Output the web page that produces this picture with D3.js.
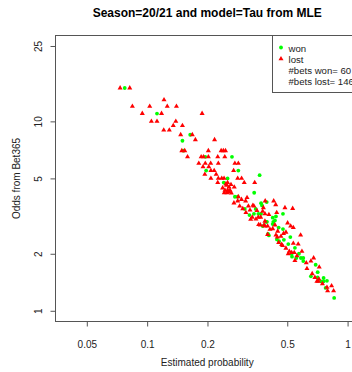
<!DOCTYPE html>
<html>
<head>
<meta charset="utf-8">
<script src="https://cdn.jsdelivr.net/npm/d3@7"></script>
<style>
  html, body { margin: 0; padding: 0; background: #fff; }
  svg { display: block; font-family: "Liberation Sans", Arial, sans-serif; }
</style>
</head>
<body>
<script>
// estimated probability / bookmaker odds
const wonProb = [0.0773,0.112,0.150,0.164,0.152,0.195,0.265,0.197,0.285,0.252,0.241,0.364,0.342,0.274,0.283,0.307,0.348,0.370,0.395,0.476,
  0.341,0.359,0.370,0.396,0.423,0.434,0.423,0.377,0.401,0.476,0.453,0.518,0.444,0.455,0.481,0.506,0.546,0.572,0.585,0.555,
  0.392,0.426,0.405,0.601,0.601,0.693,0.709,0.656,0.709,0.759,0.736,0.759,0.789,0.777,0.857,0.526,0.324,0.439,0.528,0.374];
const wonOdds = [15,11,7.9,8.5,7,6.5,6.5,5.5,5.5,5,4.75,5.2,4.2,4,4,3.45,3.45,3.7,3.75,3.25,
  3.25,3.25,3.25,2.95,3.1,3,2.87,2.8,2.55,2.7,2.75,2.45,2.38,2.33,2.37,2.25,2.15,2,1.9,1.9,
  2.95,2.95,2.5,1.9,1.83,1.75,1.6,1.52,1.5,1.49,1.43,1.43,1.44,1.32,1.17,2,3.2,3.15,1.93,3.6];

const lostProb = [0.0733,0.0819,0.1214,0.0844,0.103,0.126,0.140,0.0946,0.118,0.105,
  0.112,0.139,0.135,0.121,0.129,0.188,0.150,0.147,0.168,0.174,
  0.217,0.149,0.154,0.202,0.234,0.240,0.246,0.159,0.186,0.191,
  0.202,0.225,0.244,0.181,0.195,0.2075,0.2265,0.274,0.285,0.190,
  0.203,0.208,0.216,0.270,0.194,0.221,0.208,0.2265,0.2355,0.242,
  0.283,0.296,0.305,0.225,0.252,0.344,0.272,0.249,0.256,0.2445,
  0.252,0.259,0.2425,0.250,0.256,0.285,0.310,0.283,0.2895,0.320,
  0.341,0.300,0.337,0.326,0.428,0.438,0.487,0.532,0.443,0.353,
  0.377,0.387,0.387,0.3585,0.3685,0.3345,0.367,0.383,0.502,0.4925,
  0.446,0.465,0.453,0.469,0.536,0.512,0.526,0.542,0.559,0.387,
  0.399,0.434,0.423,0.520,0.536,0.399,0.439,0.448,0.583,0.567,
  0.474,0.506,0.546,0.622,0.656,0.677,0.722,0.666,0.687,0.719,
  0.703,0.714,0.832,0.789,0.795,0.8515,0.388,0.380,0.405,0.3285,
  0.360,0.247,0.262,0.238,0.263,0.315,0.2955,0.271,0.311,0.349,
  0.410,0.479,0.4925,0.592,0.627,0.749];
const lostOdds = [15,15,13,12,12,12,12,11,11,10,
  10,10,9.5,9,9,11,9.5,8.5,8.5,8,
  8,7,7,7,7,7,7,6.5,6.5,6.5,
  6.5,6.5,6.5,6,6,6,6,6,6,5.75,
  5.75,5.5,5.5,5.5,5.25,5.25,5,5,5,5,
  5,5,4.75,4.75,4.75,4.75,4.5,4.6,4.5,4.33,
  4.33,4.33,4.2,4.2,4.25,4,3.8,3.8,3.57,3.57,
  3.57,3.46,3.6,3.4,3.8,3.63,3.5,3.47,3.3,3.38,
  3.35,3.25,2.97,3.12,3.12,3.12,2.84,2.84,2.91,2.6,
  2.45,2.47,2.29,2.24,2.27,2.06,2.03,2.03,1.95,2.8,
  2.8,2.84,2.71,2.8,2.75,2.53,2.51,2.63,2.51,2.25,
  2.21,2,1.84,1.79,1.83,1.9,1.7,1.57,1.5,1.47,
  1.43,1.43,1.355,1.33,1.275,1.275,3.8,3.5,3.22,3.04,
  2.85,4.67,4.64,4.45,4.19,3.96,3.87,3.71,3.3,3.05,
  2.69,2.56,2.14,2.06,1.67,1.39];

const xTicks = [0.05, 0.1, 0.2, 0.5, 1];
const yTicks = [1, 2, 5, 10, 25];
const xLim = [0.0349, 1.14];
const yLim = [0.878, 28.4];

const title = 'Season=20/21 and model=Tau from MLE';
const xLabel = 'Estimated probability';
const yLabel = 'Odds from Bet365';
const legendLabels = ['won', 'lost', '#bets won= ' + wonProb.length, '#bets lost= ' + lostProb.length];

const W = 352, H = 372;
const box = { left: 55.5, top: 35.5, right: 359, bottom: 321.5 };

const svg = d3.select('body').append('svg').attr('width', W).attr('height', H);

const x = d3.scaleLog().domain(xLim).range([box.left, box.right]);
const y = d3.scaleLog().domain(yLim).range([box.bottom, box.top]);

const won = wonProb.map((p, i) => ({ p: p, o: wonOdds[i] }));
const lost = lostProb.map((p, i) => ({ p: p, o: lostOdds[i] }));

// points first, box on top
svg.append('g')
  .selectAll('circle')
  .data(won)
  .enter()
  .append('circle')
  .attr('cx', d => x(d.p))
  .attr('cy', d => y(d.o))
  .attr('r', 1.9)
  .attr('fill', '#00ff00');

const tri = d3.symbol().type(d3.symbolTriangle).size(11);
svg.append('g')
  .selectAll('path')
  .data(lost)
  .enter()
  .append('path')
  .attr('d', tri)
  .attr('transform', d => `translate(${x(d.p)},${y(d.o)})`)
  .attr('fill', '#ff0000');

svg.append('rect')
  .attr('x', box.left).attr('y', box.top)
  .attr('width', box.right - box.left).attr('height', box.bottom - box.top)
  .attr('fill', 'none').attr('stroke', '#555');

// axes
const xAxis = svg.append('g')
  .attr('transform', `translate(0,${box.bottom})`)
  .call(d3.axisBottom(x).tickValues(xTicks).tickFormat(d => String(d)).tickSize(5).tickPadding(14));
xAxis.select('.domain').remove();
xAxis.selectAll('line').attr('stroke', '#555');
xAxis.selectAll('text').attr('font-size', 10).attr('fill', '#222').attr('font-family', null);

const yAxis = svg.append('g')
  .attr('transform', `translate(${box.left},0)`)
  .call(d3.axisLeft(y).tickValues(yTicks).tickFormat(d => String(d)).tickSize(5));
yAxis.select('.domain').remove();
yAxis.selectAll('line').attr('stroke', '#555');
yAxis.selectAll('text').remove();
yAxis.selectAll('.tick').append('text')
  .attr('transform', 'translate(-13.5,0) rotate(-90)')
  .attr('text-anchor', 'middle')
  .attr('font-size', 10)
  .attr('fill', '#222')
  .text(d => String(d));

// labels
svg.append('text')
  .attr('x', (box.left + box.right) / 2).attr('y', 17)
  .attr('text-anchor', 'middle').attr('font-size', 12).attr('font-weight', 'bold')
  .text(title);

svg.append('text')
  .attr('x', (box.left + box.right) / 2).attr('y', 366)
  .attr('text-anchor', 'middle').attr('font-size', 10).attr('fill', '#222')
  .text(xLabel);

svg.append('text')
  .attr('transform', `translate(20,${(box.top + box.bottom) / 2}) rotate(-90)`)
  .attr('text-anchor', 'middle').attr('font-size', 10).attr('fill', '#222')
  .text(yLabel);

// legend (runs off the right edge, as in the original)
const lg = svg.append('g');
lg.append('rect')
  .attr('x', 272.5).attr('y', box.top).attr('width', 100).attr('height', 57)
  .attr('fill', '#fff').attr('stroke', '#555');
lg.append('circle').attr('cx', 281).attr('cy', 47.5).attr('r', 1.9).attr('fill', '#00ff00');
lg.append('path').attr('d', tri).attr('transform', 'translate(281,58.8)').attr('fill', '#ff0000');
lg.selectAll('text.lab')
  .data(legendLabels)
  .enter()
  .append('text')
  .attr('class', 'lab')
  .attr('x', 288.5)
  .attr('y', (d, i) => 51.5 + i * 11)
  .attr('font-size', 9.6)
  .attr('fill', '#222')
  .text(d => d);
</script>
</body>
</html>
